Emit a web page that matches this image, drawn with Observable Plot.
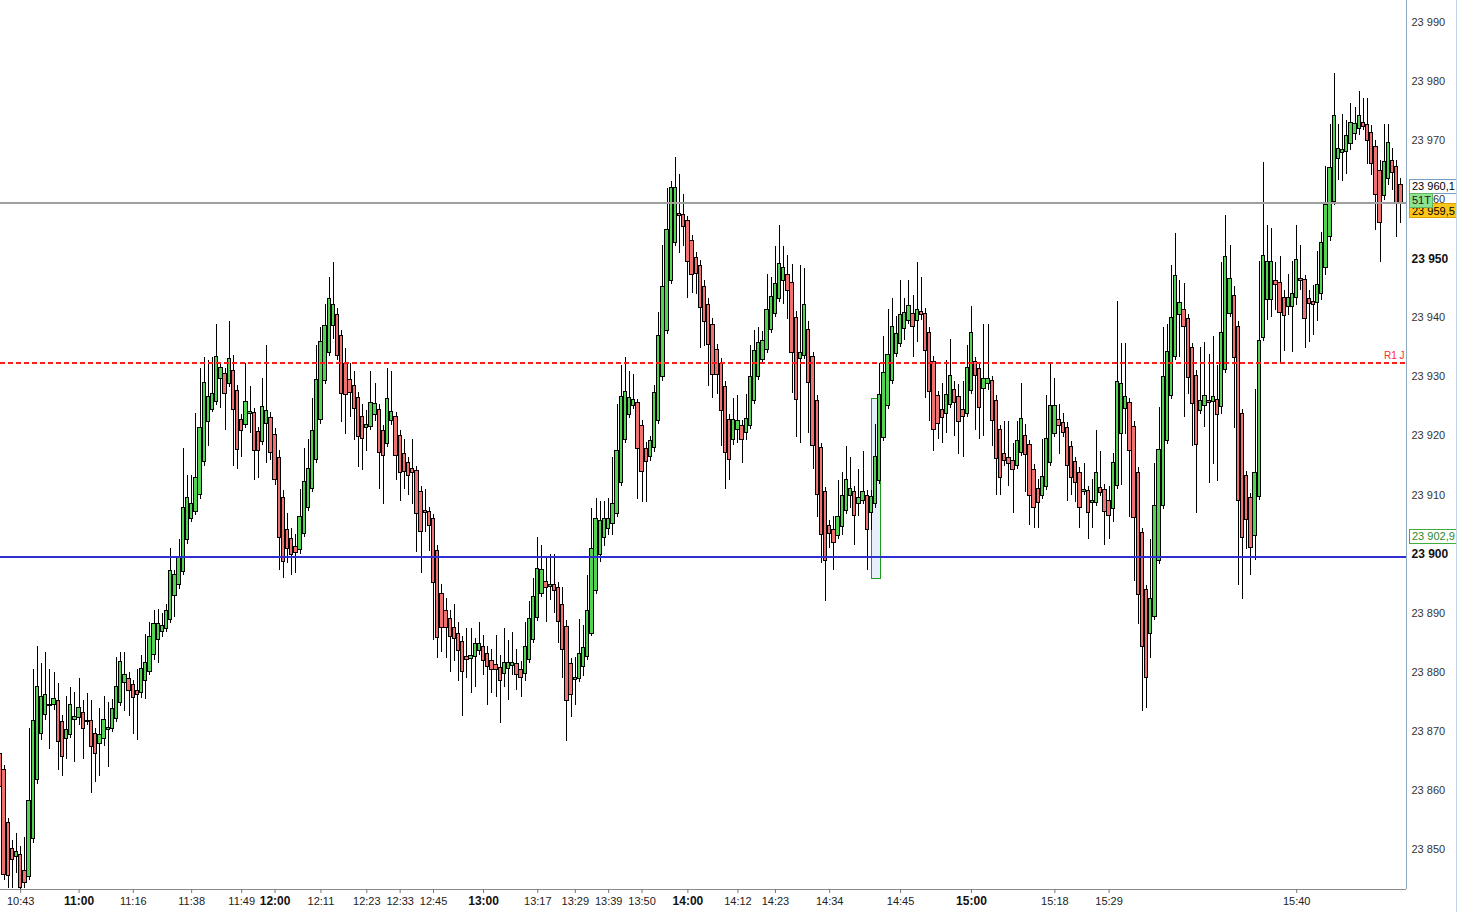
<!DOCTYPE html>
<html><head><meta charset="utf-8">
<script src="https://cdn.jsdelivr.net/npm/d3@7"></script>
<script src="https://cdn.jsdelivr.net/npm/@observablehq/plot@0.6"></script>
<style>
html,body{margin:0;padding:0;background:#fff;overflow:hidden}
#chart{position:absolute;left:0;top:0;width:1458px;height:912px}
</style></head><body><div id="chart"></div>
<script>
// ---- candle data (one candle per index) ----
const open=[23866.2,23863.4,23854.5,23850.1,23848.8,23849.1,23846.4,23845.4,23851.8,23861.8,
23869.6,23872.8,23874.4,23874.4,23875.1,23871.6,23868.7,23869.4,23871.9,23872.3,
23873.1,23871.8,23871.8,23869.6,23867.9,23868.7,23870.3,23870.4,23872.1,23874.8,
23878.2,23878.9,23877.9,23876.9,23876.5,23878.6,23880.1,23882.9,23885.5,23886.8,
23887.4,23888.9,23892.9,23894.8,23897.0,23902.4,23906.0,23907.2,23910.0,23915.6,
23922.4,23924.4,23925.8,23929.7,23930.5,23928.8,23931.0,23927.6,23922.7,23921.9,
23923.8,23923.9,23920.7,23919.0,23922.1,23923.1,23920.2,23916.3,23909.5,23904.1,
23902.6,23901.2,23900.7,23903.4,23907.8,23911.1,23916.0,23922.7,23929.3,23934.1,
23938.7,23940.5,23937.0,23932.1,23929.5,23928.5,23926.5,23923.2,23921.4,23921.6,
23923.6,23924.4,23920.9,23918.7,23922.6,23923.2,23920.0,23917.0,23915.5,23914.4,
23914.1,23910.5,23907.3,23907.1,23906.0,23900.6,23893.3,23890.4,23889.0,23887.5,
23886.5,23885.2,23882.6,23882.3,23882.6,23883.6,23884.3,23883.1,23881.9,23881.3,
23880.8,23879.7,23880.6,23881.1,23881.4,23880.4,23879.7,23882.1,23885.5,23889.2,
23893.3,23895.3,23894.5,23894.8,23894.3,23891.4,23887.7,23881.4,23878.7,23878.9,
23880.9,23882.6,23886.5,23893.8,23899.9,23902.8,23904.3,23905.1,23906.8,23912.0,
23919.4,23923.5,23925.0,23925.6,23921.7,23917.8,23916.5,23918.0,23922.6,23929.9,
23937.7,23946.3,23952.7,23957.6,23957.4,23956.4,23953.0,23950.1,23948.8,23945.3,
23942.2,23938.8,23934.6,23932.2,23928.3,23922.7,23919.4,23921.0,23921.7,23920.5,
23921.7,23926.0,23930.0,23932.9,23934.6,23938.0,23940.7,23943.2,23946.3,23947.3,
23945.9,23940.0,23933.1,23933.6,23938.0,23933.4,23926.0,23918.0,23910.5,23904.8,
23904.1,23903.1,23904.6,23907.3,23909.9,23910.5,23908.5,23909.0,23909.9,23907.0,
23908.4,23912.4,23919.7,23925.1,23929.3,23933.9,23935.6,23938.1,23939.5,23940.7,
23939.5,23941.0,23940.7,23937.5,23932.6,23926.8,23924.4,23923.8,23925.3,23927.8,
23926.6,23924.4,23923.8,23927.6,23932.6,23931.4,23928.0,23928.8,23929.3,23926.0,
23921.0,23917.0,23916.3,23915.8,23914.9,23917.2,23920.0,23918.5,23914.3,23911.1,
23909.9,23911.4,23915.5,23920.4,23922.7,23922.2,23921.4,23918.2,23915.6,23913.8,
23910.5,23910.7,23908.7,23908.7,23911.2,23910.9,23909.0,23907.7,23911.6,23920.4,
23924.6,23925.6,23921.6,23913.8,23903.5,23893.9,23886.5,23889.4,23898.8,23908.1,
23919.2,23926.8,23933.4,23940.4,23941.3,23939.8,23934.9,23930.2,23924.3,23925.1,
23926.0,23925.8,23926.1,23924.9,23931.2,23940.7,23943.7,23938.5,23923.7,23913.2,
23909.5,23903.1,23909.6,23936.5,23943.1,23943.1,23946.3,23945.9,23943.4,23941.9,
23941.9,23943.4,23946.6,23946.4,23943.2,23942.7,23942.5,23944.1,23948.5,23953.6,
23959.6,23966.9,23967.9,23968.1,23969.5,23971.1,23972.0,23973.0,23972.7,23971.3,
23968.9,23964.9,23960.6,23963.5,23966.6,23965.6,23962.5];
const high=[23867.1,23864.2,23855.2,23851.5,23852.7,23850.5,23852.0,23870.5,23880.5,23884.4,
23881.5,23883.3,23880.5,23880.0,23878.1,23872.7,23875.9,23877.4,23876.6,23878.9,
23875.3,23876.4,23875.3,23870.5,23873.9,23875.9,23874.9,23875.4,23882.5,23883.3,
23883.3,23880.0,23878.6,23880.4,23882.8,23886.4,23888.4,23890.5,23890.6,23889.9,
23891.5,23901.0,23897.2,23902.5,23917.8,23913.3,23913.3,23923.8,23931.4,23933.3,
23932.8,23933.3,23938.9,23932.4,23931.4,23939.4,23933.7,23928.5,23923.6,23932.2,
23928.3,23924.6,23921.4,23929.8,23935.3,23924.0,23921.3,23917.5,23910.8,23906.8,
23904.3,23903.3,23910.9,23917.8,23919.4,23926.3,23935.3,23938.3,23942.2,23946.8,
23949.3,23941.6,23937.9,23934.8,23932.2,23930.9,23927.4,23925.3,23924.3,23930.9,
23928.8,23925.3,23921.8,23931.4,23930.9,23924.0,23920.9,23919.4,23916.3,23919.4,
23914.8,23911.4,23910.9,23907.9,23906.7,23901.5,23894.9,23892.4,23890.4,23891.4,
23888.4,23886.0,23887.4,23887.4,23885.7,23888.4,23886.3,23884.3,23883.8,23886.3,
23882.8,23887.4,23885.3,23886.8,23883.8,23881.9,23888.4,23891.9,23895.8,23902.8,
23901.4,23899.4,23899.9,23899.9,23895.2,23894.3,23888.8,23882.3,23882.5,23888.9,
23887.9,23896.3,23907.8,23909.4,23908.9,23908.9,23909.4,23916.4,23925.4,23931.9,
23933.2,23930.9,23930.4,23926.2,23922.6,23918.9,23919.9,23928.5,23940.9,23952.3,
23961.9,23963.0,23967.2,23964.2,23960.8,23957.2,23953.9,23951.1,23949.7,23946.3,
23943.3,23939.9,23935.5,23933.1,23929.2,23923.6,23926.3,23926.8,23922.6,23927.0,
23935.3,23937.8,23938.3,23937.6,23947.3,23946.8,23952.0,23955.7,23952.0,23950.5,
23949.1,23941.0,23948.8,23948.3,23939.3,23934.2,23926.8,23918.8,23911.3,23905.7,
23906.3,23912.4,23913.8,23918.3,23916.3,23911.4,23914.3,23917.3,23910.7,23910.8,
23921.9,23932.2,23936.8,23941.4,23943.2,23940.3,23946.3,23943.2,23946.3,23943.7,
23949.3,23946.8,23941.5,23938.3,23933.4,23927.6,23928.8,23932.7,23936.3,23929.3,
23928.7,23929.3,23935.3,23941.9,23933.2,23932.2,23938.8,23938.8,23930.1,23926.8,
23921.8,23922.4,23922.4,23918.8,23922.4,23928.8,23921.9,23919.3,23915.1,23912.7,
23919.4,23926.8,23932.2,23929.8,23925.3,23923.8,23922.2,23919.0,23916.4,23914.6,
23915.3,23911.5,23912.7,23920.9,23917.3,23911.7,23911.4,23917.0,23942.7,23935.7,
23935.7,23926.4,23922.4,23914.6,23904.3,23894.7,23902.5,23915.3,23924.9,23938.4,
23938.9,23948.8,23954.3,23946.4,23945.8,23940.6,23935.7,23931.0,23934.9,23935.8,
23933.8,23936.9,23931.9,23949.4,23957.3,23952.2,23945.3,23939.3,23924.5,23914.0,
23910.3,23927.9,23949.5,23966.3,23955.6,23955.2,23949.4,23950.3,23944.6,23947.3,
23949.5,23955.7,23952.2,23947.2,23944.6,23945.4,23951.3,23954.4,23965.7,23972.7,
23981.4,23972.7,23974.5,23973.4,23976.2,23975.6,23978.3,23977.2,23977.2,23972.6,
23970.0,23966.6,23972.7,23972.7,23968.6,23966.6,23963.6];
const low=[23858.3,23844.7,23843.4,23843.4,23845.9,23843.2,23843.4,23844.7,23851.0,23861.0,
23868.4,23871.8,23866.9,23873.5,23863.3,23862.4,23865.3,23868.8,23864.8,23870.9,
23865.3,23871.0,23859.4,23861.4,23862.4,23867.4,23863.8,23869.8,23871.5,23874.2,
23873.3,23872.5,23869.4,23868.4,23875.6,23875.4,23879.5,23882.0,23881.4,23885.8,
23886.7,23888.3,23889.3,23894.0,23896.3,23901.7,23905.3,23906.5,23909.3,23914.8,
23918.3,23923.9,23925.2,23924.6,23920.9,23928.2,23914.8,23914.3,23916.3,23921.3,
23920.4,23912.4,23912.8,23918.4,23915.3,23915.8,23911.6,23897.3,23895.8,23898.4,
23896.3,23896.8,23900.0,23902.8,23907.2,23910.5,23915.4,23922.0,23928.7,23933.5,
23936.3,23932.8,23922.3,23920.3,23923.2,23919.3,23914.7,23914.2,23917.3,23920.9,
23922.4,23910.9,23908.4,23918.0,23921.8,23912.4,23908.9,23910.9,23909.9,23908.4,
23900.3,23896.8,23903.7,23900.4,23885.3,23882.4,23883.3,23882.4,23879.9,23881.9,
23878.4,23872.5,23878.9,23876.4,23877.4,23882.8,23879.4,23874.3,23876.4,23875.8,
23871.4,23877.4,23875.3,23879.4,23876.9,23875.8,23878.4,23881.5,23884.9,23888.6,
23892.7,23888.4,23892.2,23889.9,23884.8,23878.9,23868.3,23872.4,23874.3,23878.3,
23879.3,23882.0,23886.0,23893.2,23898.6,23901.3,23903.1,23903.1,23906.2,23911.4,
23918.8,23923.0,23924.4,23909.3,23908.8,23908.8,23915.6,23917.2,23922.0,23929.3,
23937.1,23945.6,23952.1,23950.9,23952.1,23943.2,23944.1,23943.9,23934.8,23935.2,
23928.3,23926.3,23927.0,23918.3,23910.9,23912.4,23918.4,23918.8,23915.3,23919.3,
23921.1,23925.4,23929.4,23932.3,23934.0,23937.4,23940.1,23942.6,23942.2,23939.7,
23927.2,23919.8,23918.8,23933.0,23920.4,23914.3,23906.2,23898.4,23891.9,23900.9,
23897.3,23902.5,23903.1,23906.7,23907.8,23901.4,23906.3,23908.4,23897.3,23904.0,
23907.8,23911.8,23919.1,23924.5,23928.7,23933.2,23935.0,23936.1,23938.9,23933.2,
23935.8,23939.5,23926.3,23922.4,23917.3,23919.4,23918.8,23920.4,23924.7,23919.9,
23916.8,23916.3,23923.2,23927.0,23920.9,23919.4,23919.9,23927.7,23918.3,23909.9,
23909.9,23914.8,23911.4,23906.8,23914.3,23916.6,23910.4,23904.8,23904.3,23904.3,
23909.3,23910.8,23914.9,23919.8,23916.8,23919.7,23908.9,23909.9,23908.7,23904.3,
23909.9,23902.4,23904.3,23908.1,23909.8,23901.4,23902.4,23905.3,23911.0,23911.6,
23920.3,23906.2,23895.3,23888.0,23873.3,23873.8,23882.4,23888.8,23898.2,23907.5,
23918.6,23926.2,23932.8,23933.2,23923.2,23927.0,23918.3,23906.8,23923.7,23921.4,
23911.9,23915.2,23912.3,23923.6,23930.6,23940.1,23921.3,23894.7,23892.3,23900.8,
23896.3,23898.9,23909.0,23936.0,23939.5,23940.0,23941.2,23932.3,23934.3,23940.4,
23934.2,23942.1,23944.6,23934.8,23935.8,23937.0,23939.3,23942.9,23947.2,23953.0,
23959.0,23963.2,23963.0,23964.2,23968.3,23970.0,23970.9,23971.7,23965.9,23964.1,
23954.8,23949.3,23959.9,23962.4,23961.5,23953.6,23956.0];
const close=[23860.5,23845.7,23845.5,23848.2,23849.5,23843.4,23844.4,23858.2,23871.8,23877.5,
23875.8,23876.2,23874.5,23875.5,23868.2,23865.7,23870.3,23874.5,23872.5,23874.0,
23870.4,23871.7,23867.4,23866.2,23869.4,23871.9,23870.6,23873.8,23877.5,23881.8,
23879.6,23876.9,23875.7,23876.2,23880.6,23881.6,23886.0,23888.1,23888.2,23887.9,
23890.4,23897.2,23896.5,23899.5,23907.8,23909.5,23908.5,23912.8,23921.4,23929.0,
23926.6,23927.1,23933.4,23931.5,23927.1,23933.1,23924.4,23917.7,23920.9,23925.8,
23924.1,23917.5,23917.5,23924.9,23924.3,23917.2,23912.6,23902.8,23898.7,23900.9,
23899.9,23900.2,23906.2,23912.2,23914.4,23920.9,23929.5,23935.9,23938.7,23943.2,
23942.2,23933.6,23927.1,23927.0,23927.3,23924.6,23919.9,23919.5,23921.9,23925.6,
23925.4,23917.2,23916.6,23926.3,23924.1,23916.6,23913.8,23913.9,23913.3,23913.8,
23906.8,23903.8,23907.2,23904.8,23895.1,23885.8,23887.5,23887.5,23886.0,23885.7,
23883.6,23880.1,23882.1,23882.8,23884.8,23884.8,23881.9,23880.9,23880.4,23880.4,
23878.6,23881.6,23881.6,23881.6,23879.6,23879.1,23884.3,23889.0,23892.8,23897.5,
23897.3,23894.3,23894.8,23893.8,23888.5,23883.8,23875.2,23876.2,23879.1,23883.1,
23884.1,23890.4,23900.9,23906.0,23905.6,23906.0,23906.0,23908.5,23917.4,23926.6,
23927.5,23926.4,23926.1,23917.8,23913.9,23915.6,23919.1,23927.3,23937.0,23945.2,
23954.9,23961.9,23962.0,23957.5,23955.4,23949.4,23947.3,23947.4,23941.7,23939.3,
23935.4,23930.4,23930.4,23924.3,23917.2,23916.0,23922.7,23922.6,23919.4,23922.9,
23930.0,23934.3,23935.8,23936.1,23941.4,23943.6,23945.8,23949.1,23948.5,23944.6,
23934.1,23926.1,23934.1,23942.2,23929.0,23918.3,23910.0,23903.3,23898.9,23903.4,
23901.9,23906.3,23909.9,23912.6,23911.1,23906.5,23909.5,23910.5,23904.1,23909.7,
23916.5,23927.0,23930.7,23933.7,23938.5,23937.3,23940.5,23940.9,23942.0,23938.5,
23941.4,23940.5,23934.3,23927.5,23921.0,23922.1,23923.1,23927.0,23930.2,23925.6,
23922.4,23923.2,23931.5,23937.5,23930.2,23924.8,23929.7,23929.7,23922.6,23916.1,
23912.8,23915.8,23915.3,23914.3,23919.2,23922.9,23916.8,23909.9,23907.8,23908.7,
23913.1,23919.5,23925.1,23925.1,23921.7,23920.5,23914.9,23912.9,23912.1,23907.8,
23910.9,23907.0,23909.0,23913.8,23910.4,23907.2,23906.5,23915.5,23929.2,23928.8,
23926.6,23917.5,23906.1,23893.1,23884.3,23879.0,23892.4,23908.1,23917.7,23930.0,
23934.2,23940.0,23947.1,23942.5,23938.5,23929.8,23925.4,23918.5,23926.0,23926.8,
23925.5,23926.6,23923.6,23937.5,23950.3,23946.6,23933.2,23909.0,23902.8,23905.8,
23901.1,23913.8,23936.1,23950.5,23949.5,23949.5,23945.6,23940.9,23940.3,23943.4,
23944.1,23949.8,23946.3,23939.8,23942.4,23942.2,23945.6,23952.7,23959.1,23965.4,
23974.2,23968.6,23968.4,23970.8,23973.0,23972.8,23974.2,23972.3,23970.0,23966.1,
23960.8,23956.1,23966.4,23969.6,23964.6,23959.5,23959.5];

// ---- time axis (candle index -> label) ----
const timeTickIndex=[5,19,32,46,58,66,77,88,96,104,116,129,138,146,154,165,177,186,199,216,233,253,266,311];
const timeTickLabel=["10:43","11:00","11:16","11:38","11:49","12:00","12:11","12:23","12:33","12:45","13:00","13:17","13:29","13:39","13:50","14:00","14:12","14:23","14:34","14:45","15:00","15:18","15:29","15:40"];
const hourLabels=["11:00","12:00","13:00","14:00","15:00"];

// ---- price axis ----
const priceTicks=[23850,23860,23870,23880,23890,23900,23910,23920,23930,23940,23950,23960,23970,23980,23990];
const boldPrices=[23900,23950];

// ---- horizontal levels ----
const lastPrice=23959.5;
const supportLevel=23899.5;
const r1Level=23932.4;
const r1Label="R1 J";

// ---- price tags on the axis ----
const tagValues=[23960.1,23959.5,23959.5,23902.9];
const tagLabels=["23 960,1","23 959,5","51T","23 902,9"];

// ---- selection box (candle index range, price range) ----
const selStart=[209.1], selEnd=[211.25], selLow=[23895.8], selHigh=[23926.3];

const fmt=d=>d3.format(",")(d).replace(/,/g," ");
const candles=open.map((o,i)=>({i,o,h:high[i],l:low[i],c:close[i]}));
const up=candles.filter(d=>d.c>=d.o), down=candles.filter(d=>d.c<d.o);
const minBody=0.18;
const bTop=d=>Math.max(d.o,d.c);
const bBot=d=>Math.min(d.o,d.c)-(Math.abs(d.o-d.c)<minBody?minBody:0);
const ticks=timeTickIndex.map((i,k)=>({i,label:timeTickLabel[k]}));
const sel=selStart.map((s,k)=>({x1:s,x2:selEnd[k],y1:selLow[k],y2:selHigh[k]}));
const GREEN="#52d452", RED="#ef7270";
const W=1458,H=912,MR=52,MB=23;
const step=4.17, x0px=-0.65;
const xDomain=[(0-x0px)/step,(W-MR-x0px)/step];
const yDomain=[23843.22,23993.72];
const FONT="'Liberation Sans', Arial, sans-serif";

const plot=Plot.plot({
  width:W,height:H,marginLeft:0,marginRight:MR,marginTop:0,marginBottom:MB,
  style:{background:"#fff",fontFamily:FONT,fontSize:"11px",color:"#222"},
  x:{domain:xDomain,axis:null},
  y:{domain:yDomain,axis:null},
  marks:[
    Plot.ruleY([yDomain[0]],{stroke:"#8a8a8a",strokeWidth:1,shapeRendering:"crispEdges"}),
    Plot.ruleX([xDomain[1]],{stroke:"#8fa7c0",strokeWidth:1,shapeRendering:"crispEdges"}),
    Plot.axisX({ticks:timeTickIndex,tickSize:4,tickFormat:()=>"",stroke:"#777"}),
    Plot.text(ticks.filter(d=>!hourLabels.includes(d.label)),{x:"i",text:"label",frameAnchor:"bottom",dy:15,fill:"#222"}),
    Plot.text(ticks.filter(d=>hourLabels.includes(d.label)),{x:"i",text:"label",frameAnchor:"bottom",dy:15,fill:"#111",fontWeight:"bold",fontSize:12}),
    Plot.text(priceTicks.filter(d=>!boldPrices.includes(d)),{y:d=>d,text:fmt,frameAnchor:"right",textAnchor:"start",dx:5,fill:"#333"}),
    Plot.text(boldPrices,{y:d=>d,text:fmt,frameAnchor:"right",textAnchor:"start",dx:5,fill:"#111",fontWeight:"bold",fontSize:12}),
    Plot.rect(sel,{x1:"x1",x2:"x2",y1:"y1",y2:"y2",fill:"#e7effd",stroke:"#1c9a1c",strokeWidth:1,shapeRendering:"crispEdges"}),
    Plot.ruleX(candles,{x:"i",y1:"l",y2:"h",stroke:"#000",strokeWidth:1,shapeRendering:"crispEdges"}),
    Plot.rect(up,{x1:d=>d.i-0.4,x2:d=>d.i+0.4,y1:bBot,y2:bTop,fill:GREEN,stroke:"#000",strokeWidth:1,shapeRendering:"crispEdges"}),
    Plot.rect(down,{x1:d=>d.i-0.4,x2:d=>d.i+0.4,y1:bBot,y2:bTop,fill:RED,stroke:"#000",strokeWidth:1,shapeRendering:"crispEdges"}),
    Plot.ruleY([lastPrice],{stroke:"#a0a0a0",strokeWidth:2,shapeRendering:"crispEdges"}),
    Plot.ruleY([supportLevel],{stroke:"#2f2fd4",strokeWidth:2,shapeRendering:"crispEdges"}),
    Plot.ruleY([r1Level],{stroke:"#ff1a1a",strokeWidth:2,strokeDasharray:"5,3",shapeRendering:"crispEdges"}),
    Plot.text([r1Label],{y:()=>r1Level,text:d=>d,frameAnchor:"right",textAnchor:"end",dx:-2,dy:-7,fill:"#ff2a2a",fontSize:10})
  ]
});
document.getElementById("chart").appendChild(plot);

// price tags drawn on the right axis with the plot's own scales
const svg=d3.select(plot);
const ys=plot.scale("y"), xs=plot.scale("x");
const axisPx=xs.apply(xDomain[1]);
const tagStyle=[
  {shift:-12.5,w:47,fill:"#ffffff",stroke:"#7a9cc0",color:"#000"},
  {shift:8.5,w:47,fill:"#ffc61a",stroke:"#dba200",color:"#000"},
  {shift:-2,w:23,fill:"#8fe28f",stroke:"#5fb85f",color:"#1a1a1a"},
  {shift:0,w:47,fill:"#ffffff",stroke:"#3fae3f",color:"#2a8a2a"}
];
tagValues.forEach((v,k)=>{
  const s=tagStyle[k], cy=ys.apply(v)+s.shift;
  const g=svg.append("g").attr("text-anchor","start");
  g.append("rect").attr("x",axisPx+3).attr("y",cy-7).attr("width",s.w).attr("height",14)
    .attr("fill",s.fill).attr("stroke",s.stroke).attr("stroke-width",1).attr("shape-rendering","crispEdges");
  g.append("text").attr("x",axisPx+6).attr("y",cy).attr("dy","0.36em").attr("text-anchor","start")
    .attr("font-family",FONT).attr("font-size",11)
    .attr("fill",s.color).text(tagLabels[k]);
});
svg.append("line").attr("x1",W-1.5).attr("x2",W-1.5).attr("y1",0).attr("y2",H)
  .attr("stroke","#c3d4e6").attr("stroke-width",1);
</script></body></html>
